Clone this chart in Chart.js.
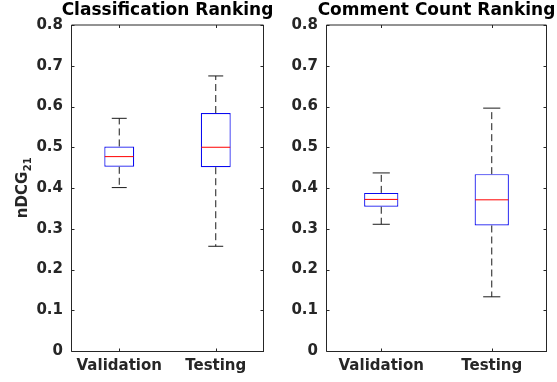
<!DOCTYPE html>
<html>
<head>
<meta charset="utf-8">
<script src="https://cdn.jsdelivr.net/npm/chart.js@4.4.1/dist/chart.umd.min.js"></script>
<style>
  html, body { margin: 0; padding: 0; background: #ffffff; }
  #wrap { position: relative; width: 557px; height: 382px; overflow: hidden; }
  canvas { position: absolute; top: 0; }
</style>
</head>
<body>
<div id="wrap">
  <canvas id="left" width="275" height="382" style="left:0px"></canvas>
  <canvas id="right" width="282" height="382" style="left:275px"></canvas>
</div>
<script>
// Categories and axis labels
const categories = ['Validation', 'Testing'];
const yTickLabels = ['0', '0.1', '0.2', '0.3', '0.4', '0.5', '0.6', '0.7', '0.8'];

// Classification ranking: whisker ends, quartiles and medians
const clsLow    = [0.401, 0.257];
const clsQ1     = [0.452, 0.451];
const clsMedian = [0.477, 0.500];
const clsQ3     = [0.502, 0.584];
const clsHigh   = [0.571, 0.675];

// Comment count ranking: whisker ends, quartiles and medians
const cmtLow    = [0.311, 0.133];
const cmtQ1     = [0.354, 0.308];
const cmtMedian = [0.372, 0.371];
const cmtQ3     = [0.388, 0.434];
const cmtHigh   = [0.437, 0.596];

const FONT = "'DejaVu Sans', 'Liberation Sans', sans-serif";
const TEXT = '#262626';
const FRAME = '#262626';

// Median lines, dashed whiskers and end caps drawn on top of the boxes
const whiskerPlugin = {
  id: 'whiskers',
  afterDatasetsDraw(chart) {
    const ctx = chart.ctx;
    const st = chart.options.plugins.whiskers;
    const y = chart.scales.y;
    const meta = chart.getDatasetMeta(0);
    meta.data.forEach((bar, i) => {
      const cx = bar.x;
      const w = bar.width;
      const yLow = y.getPixelForValue(st.low[i]);
      const yHigh = y.getPixelForValue(st.high[i]);
      const yQ1 = y.getPixelForValue(st.q1[i]);
      const yQ3 = y.getPixelForValue(st.q3[i]);
      const yMed = y.getPixelForValue(st.median[i]);
      ctx.save();
      ctx.lineWidth = 1;
      // whiskers
      ctx.strokeStyle = '#1a1a1a';
      ctx.setLineDash([7, 4]);
      ctx.beginPath();
      ctx.moveTo(cx, yQ3); ctx.lineTo(cx, yHigh);
      ctx.moveTo(cx, yQ1); ctx.lineTo(cx, yLow);
      ctx.stroke();
      // caps
      ctx.setLineDash([]);
      ctx.beginPath();
      ctx.moveTo(cx - w / 4, yHigh); ctx.lineTo(cx + w / 4, yHigh);
      ctx.moveTo(cx - w / 4, yLow); ctx.lineTo(cx + w / 4, yLow);
      ctx.stroke();
      // median
      ctx.strokeStyle = '#ff0000';
      ctx.beginPath();
      ctx.moveTo(cx - w / 2 + 0.5, yMed); ctx.lineTo(cx + w / 2 - 0.5, yMed);
      ctx.stroke();
      ctx.restore();
    });
  }
};

// Boxed axes with inward tick marks on all four sides, the title and the y label
const framePlugin = {
  id: 'frame',
  afterDraw(chart) {
    const ctx = chart.ctx;
    const a = chart.chartArea;
    const xs = chart.scales.x;
    const ys = chart.scales.y;
    const opts = chart.options.plugins.frame;
    const L = Math.round(a.left) + 0.5, R = Math.round(a.right) - 0.5;
    const T = Math.round(a.top), B = Math.round(a.bottom) + 0.5;
    const tl = 3;
    ctx.save();
    ctx.strokeStyle = FRAME;
    ctx.lineWidth = 1;
    ctx.beginPath();
    ctx.moveTo(L, T); ctx.lineTo(R, T);
    ctx.moveTo(L, T); ctx.lineTo(L, B);
    ctx.moveTo(L, B); ctx.lineTo(R + 0.5, B);
    ctx.moveTo(R, T); ctx.lineTo(R, B);
    ys.ticks.forEach((t, i) => {
      const py = Math.round(ys.getPixelForTick(i)) + 0.5;
      ctx.moveTo(L, py); ctx.lineTo(L + tl, py);
      ctx.moveTo(R, py); ctx.lineTo(R - tl, py);
    });
    xs.ticks.forEach((t, i) => {
      const px = Math.round(xs.getPixelForTick(i)) + 0.5;
      ctx.moveTo(px, B); ctx.lineTo(px, B - tl);
      ctx.moveTo(px, T); ctx.lineTo(px, T + tl);
    });
    ctx.stroke();

    // panel title, centred over the plot area
    ctx.fillStyle = '#000000';
    ctx.font = 'bold 17px ' + FONT;
    ctx.textAlign = 'center';
    ctx.textBaseline = 'middle';
    ctx.fillText(opts.title, (a.left + a.right) / 2, 10.5);

    const lab = opts.yLabel;
    if (lab) {
      ctx.fillStyle = TEXT;
      ctx.textBaseline = 'alphabetic';
      ctx.textAlign = 'left';
      ctx.font = 'bold 15px ' + FONT;
      const mainW = ctx.measureText(lab.main).width;
      ctx.font = 'bold 10px ' + FONT;
      const subW = ctx.measureText(lab.sub).width;
      const total = mainW + subW;
      const cy = (a.top + a.bottom) / 2;
      ctx.translate(27, cy);
      ctx.rotate(-Math.PI / 2);
      ctx.font = 'bold 15px ' + FONT;
      ctx.fillText(lab.main, -total / 2, 0);
      ctx.font = 'bold 10px ' + FONT;
      ctx.fillText(lab.sub, -total / 2 + mainW + 0.5, 3.5);
    }
    ctx.restore();
  }
};

function makeChart(id, title, q1, q3, median, low, high, axisWidth, padRight, yLabel) {
  const boxes = q1.map((v, i) => [v, q3[i]]);
  return new Chart(document.getElementById(id), {
    type: 'bar',
    data: {
      labels: categories,
      datasets: [{
        data: boxes,
        backgroundColor: '#ffffff',
        borderColor: '#0a0af0',
        borderWidth: 1.2,
        borderSkipped: false,
        barPercentage: 0.31,
        categoryPercentage: 1
      }]
    },
    options: {
      responsive: false,
      animation: false,
      devicePixelRatio: 1,
      layout: { padding: { left: 0, right: padRight, top: 25, bottom: 0 } },
      plugins: {
        legend: { display: false },
        tooltip: { enabled: false },
        title: { display: false },
        whiskers: { q1, q3, median, low, high },
        frame: { title, yLabel }
      },
      scales: {
        x: {
          type: 'category',
          offset: true,
          grid: { display: false, drawTicks: false },
          border: { display: false },
          ticks: { color: TEXT, padding: 6, font: { family: FONT, size: 15, weight: 'bold' } },
          afterFit: s => { s.height = 31; }
        },
        y: {
          min: 0,
          max: 0.8,
          grid: { display: false, drawTicks: false },
          border: { display: false },
          ticks: {
            stepSize: 0.1,
            color: TEXT,
            padding: 8,
            font: { family: FONT, size: 15, weight: 'bold' },
            callback: (v, i) => yTickLabels[i]
          },
          afterFit: s => { s.width = axisWidth; }
        }
      }
    },
    plugins: [whiskerPlugin, framePlugin]
  });
}

makeChart('left', 'Classification Ranking', clsQ1, clsQ3, clsMedian, clsLow, clsHigh, 71, 11,
  { main: 'nDCG', sub: '21' });
makeChart('right', 'Comment Count Ranking', cmtQ1, cmtQ3, cmtMedian, cmtLow, cmtHigh, 51, 10, null);
</script>
</body>
</html>
